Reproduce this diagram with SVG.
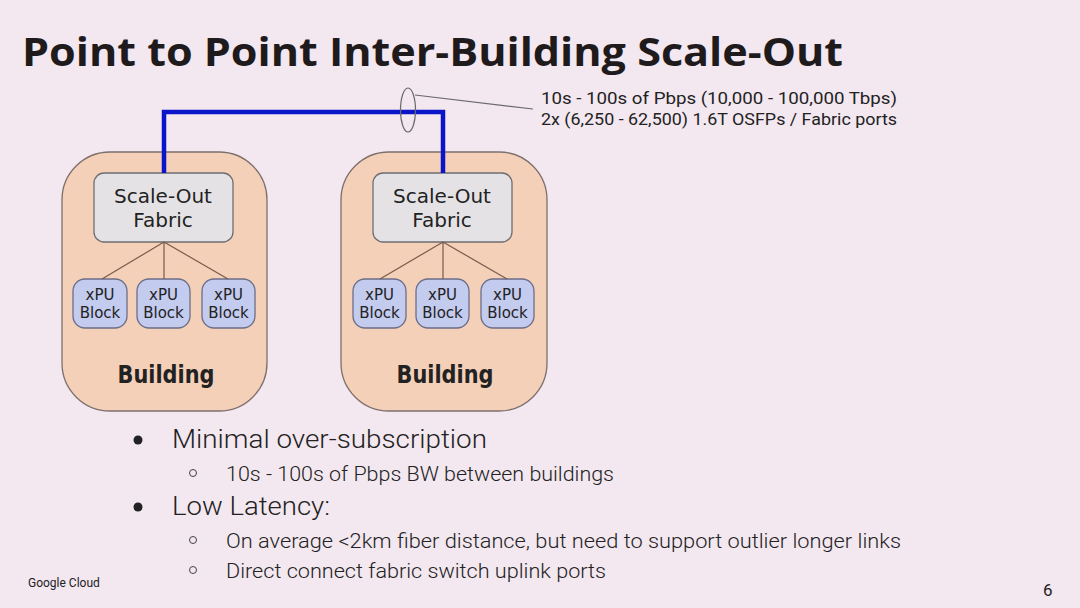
<svg xmlns="http://www.w3.org/2000/svg" width="1080" height="608" viewBox="0 0 1080 608">
<style>
.bg{fill:#f3e7f0}
.bld{fill:#f5d0b8;stroke:#7d6f6c;stroke-width:1.3}
.fab{fill:#e5e2e6;stroke:#6e6e72;stroke-width:1.3}
.blk{fill:#c3cbef;stroke:#6c6e88;stroke-width:1.3}
.tree{stroke:#7a5a4a;stroke-width:1.2;fill:none}
.comic{font-family:"Comic Sans MS","DejaVu Sans",sans-serif;fill:#222;text-anchor:middle}
.fabt{font-size:20px}
.blkt{font-size:15px}
.bldt{font-size:25px;font-weight:bold}
.g{font-family:Roboto,"Liberation Sans",sans-serif;fill:#222}
.title{font-family:"Open Sans","Liberation Sans",sans-serif;font-weight:bold;font-size:40px;fill:#1f1a1c}
</style>
<rect class="bg" x="0" y="0" width="1080" height="608"/>
<text class="title" x="22" y="66" textLength="821" lengthAdjust="spacingAndGlyphs">Point to Point Inter-Building Scale-Out</text>

<g id="building1">
<rect class="bld" x="62" y="152" width="205" height="259" rx="48"/>
<text class="comic bldt" x="166" y="383" textLength="97" lengthAdjust="spacingAndGlyphs">Building</text>
</g>
<g id="fabric1">
<rect class="fab" x="94" y="173" width="139" height="69" rx="10"/>
<text class="comic fabt" x="163" y="203">Scale-Out</text>
<text class="comic fabt" x="163" y="227">Fabric</text>
</g>
<g id="xpu1a"><rect class="blk" x="73" y="279" width="54" height="49" rx="12"/><text class="comic blkt" x="100" y="300">xPU</text><text class="comic blkt" x="100" y="318">Block</text></g>
<g id="xpu1b"><rect class="blk" x="137" y="279" width="53" height="49" rx="12"/><text class="comic blkt" x="163.5" y="300">xPU</text><text class="comic blkt" x="163.5" y="318">Block</text></g>
<g id="xpu1c"><rect class="blk" x="202" y="279" width="53" height="49" rx="12"/><text class="comic blkt" x="228.5" y="300">xPU</text><text class="comic blkt" x="228.5" y="318">Block</text></g>

<g id="building2">
<rect class="bld" x="341" y="152" width="206" height="259" rx="48"/>
<text class="comic bldt" x="445" y="383" textLength="97" lengthAdjust="spacingAndGlyphs">Building</text>
</g>
<g id="fabric2">
<rect class="fab" x="373" y="173" width="139" height="69" rx="10"/>
<text class="comic fabt" x="442" y="203">Scale-Out</text>
<text class="comic fabt" x="442" y="227">Fabric</text>
</g>
<g id="xpu2a"><rect class="blk" x="353" y="279" width="53" height="49" rx="12"/><text class="comic blkt" x="379.5" y="300">xPU</text><text class="comic blkt" x="379.5" y="318">Block</text></g>
<g id="xpu2b"><rect class="blk" x="416" y="279" width="53" height="49" rx="12"/><text class="comic blkt" x="442.5" y="300">xPU</text><text class="comic blkt" x="442.5" y="318">Block</text></g>
<g id="xpu2c"><rect class="blk" x="481" y="279" width="53" height="49" rx="12"/><text class="comic blkt" x="507.5" y="300">xPU</text><text class="comic blkt" x="507.5" y="318">Block</text></g>

<g id="connectors">
<path class="tree" d="M164 242 L102 279 M164 242 L164 279 M164 242 L228 279"/>
<path class="tree" d="M443 242 L380 279 M443 242 L443 279 M443 242 L507 279"/>
<path d="M164 173 V112 H443 V173" fill="none" stroke="#0a14c8" stroke-width="4.5"/>
<ellipse cx="408" cy="110" rx="7.5" ry="22" fill="none" stroke="#6a6a6a" stroke-width="1.2"/>
<line x1="415" y1="95" x2="533" y2="109" stroke="#6a6a6a" stroke-width="1.2"/>
</g>

<g id="annotation">
<text class="g" x="541" y="104" font-size="17" textLength="356" lengthAdjust="spacingAndGlyphs">10s - 100s of Pbps (10,000 - 100,000 Tbps)</text>
<text class="g" x="541" y="125" font-size="17" textLength="356" lengthAdjust="spacingAndGlyphs">2x (6,250 - 62,500) 1.6T OSFPs / Fabric ports</text>
</g>

<g id="bullets" class="g">
<circle cx="138" cy="440" r="4.5" fill="#222"/>
<text x="172" y="448" font-size="26" font-weight="300" textLength="315" lengthAdjust="spacingAndGlyphs">Minimal over-subscription</text>
<circle cx="193" cy="473" r="3.5" fill="none" stroke="#444" stroke-width="1"/>
<text x="226" y="481" font-size="20" font-weight="300" textLength="388" lengthAdjust="spacingAndGlyphs">10s - 100s of Pbps BW between buildings</text>
<circle cx="138" cy="507" r="4.5" fill="#222"/>
<text x="172" y="515" font-size="26" font-weight="300" textLength="158" lengthAdjust="spacingAndGlyphs">Low Latency:</text>
<circle cx="193" cy="540" r="3.5" fill="none" stroke="#444" stroke-width="1"/>
<text x="226" y="548" font-size="20" font-weight="300" textLength="675" lengthAdjust="spacingAndGlyphs">On average &lt;2km fiber distance, but need to support outlier longer links</text>
<circle cx="193" cy="570" r="3.5" fill="none" stroke="#444" stroke-width="1"/>
<text x="226" y="578" font-size="20" font-weight="300" textLength="380" lengthAdjust="spacingAndGlyphs">Direct connect fabric switch uplink ports</text>
</g>

<text class="g" x="28" y="587" font-size="12">Google Cloud</text>
<text class="g" x="1043" y="596" font-size="17">6</text>
</svg>
